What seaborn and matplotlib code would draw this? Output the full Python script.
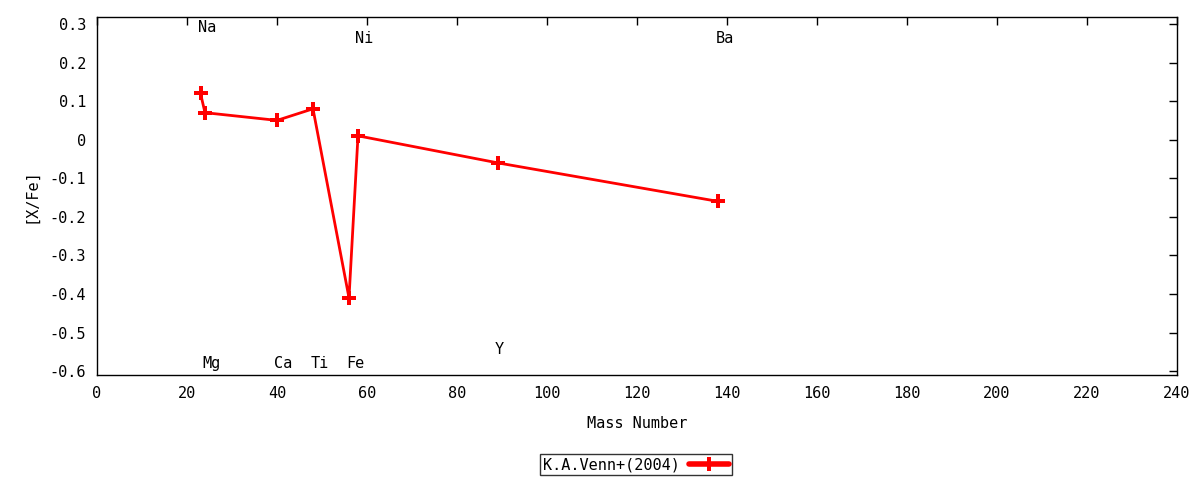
import matplotlib
matplotlib.use("Agg")
import matplotlib.pyplot as plt
import seaborn as sns
import pandas as pd

elements = ["Na", "Mg", "Ca", "Ti", "Fe", "Ni", "Y", "Ba"]
mass = [23, 24, 40, 48, 56, 58, 89, 138]
xfe = [0.12, 0.07, 0.05, 0.08, -0.41, 0.01, -0.06, -0.16]
label_y = [0.29, -0.58, -0.58, -0.58, -0.58, 0.263, -0.545, 0.263]
series_name = "K.A.Venn+(2004)"

sns.set_theme(style="white")
plt.rcParams["font.family"] = ["DejaVu Sans Mono", "DejaVu Sans"]
plt.rcParams["font.size"] = 11
plt.rcParams["axes.labelcolor"] = "black"
plt.rcParams["text.color"] = "black"

df = pd.DataFrame({"Mass Number": mass, "[X/Fe]": xfe, "src": series_name})

fig = plt.figure(figsize=(12, 4.8), dpi=100)
ax = fig.add_axes([97 / 1200, 1 - 375 / 480, (1177 - 97) / 1200, (375 - 17) / 480])

sns.lineplot(data=df, x="Mass Number", y="[X/Fe]", hue="src", palette=["#ff0000"],
             marker="P", markersize=10, markeredgewidth=0, linewidth=2,
             sort=False, ax=ax, legend=False)

for el, m, ly in zip(elements, mass, label_y):
    ax.text(m - 0.6, ly, el, ha="left", va="center", fontsize=11, color="black")

ax.set_xlim(0, 240)
ax.set_ylim(-0.61, 0.318)
ax.set_xticks(range(0, 241, 20))
ax.set_yticks([0.3, 0.2, 0.1, 0, -0.1, -0.2, -0.3, -0.4, -0.5, -0.6])
ax.set_yticklabels(["0.3", "0.2", "0.1", "0", "-0.1", "-0.2", "-0.3", "-0.4", "-0.5", "-0.6"])
ax.tick_params(direction="in", length=6, width=1, top=True, right=True,
               labelsize=11, colors="black", pad=8)
for s in ax.spines.values():
    s.set_color("black")
    s.set_linewidth(1)
ax.set_xlabel("Mass Number", fontsize=11, labelpad=11, color="black")
ax.set_ylabel("[X/Fe]", fontsize=11, labelpad=8, color="black")

h, = ax.plot([], [], color="#ff0000", marker="P", markersize=10, markeredgewidth=0, linewidth=4)
leg = fig.legend([h], [series_name], loc="center", bbox_to_anchor=(636 / 1200, 1 - 464.5 / 480),
                 markerfirst=False, frameon=True, fancybox=False, fontsize=11,
                 handlelength=2.6, borderpad=0.2, handletextpad=0.6, borderaxespad=0)
leg.get_frame().set_edgecolor("black")
leg.get_frame().set_linewidth(1)

fig.savefig("out.png", dpi=100)
